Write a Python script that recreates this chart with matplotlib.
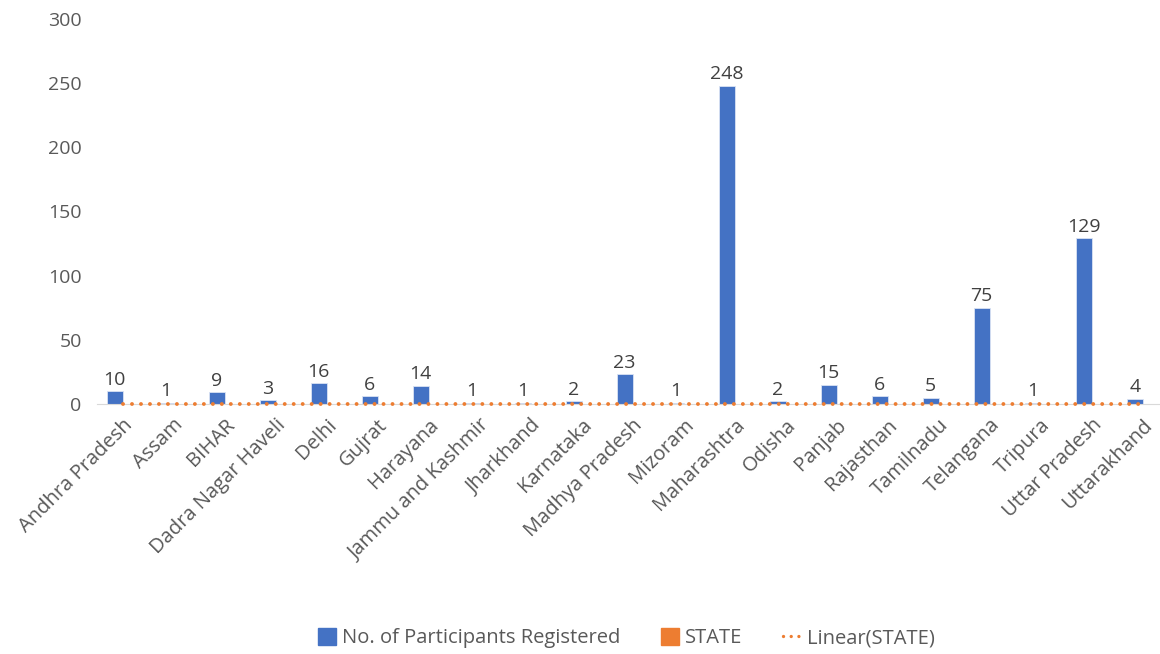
import matplotlib.pyplot as plt
import numpy as np
from matplotlib.patches import Patch
from matplotlib.lines import Line2D

plt.rcParams['font.family'] = ['Open Sans', 'DejaVu Sans']

# ------------------------------------------------------------
# DATA
# ------------------------------------------------------------
states = ["Andhra Pradesh", "Assam", "BIHAR", "Dadra Nagar Haveli", "Delhi",
          "Gujrat", "Harayana", "Jammu and Kashmir", "Jharkhand", "Karnataka",
          "Madhya Pradesh", "Mizoram", "Maharashtra", "Odisha", "Panjab",
          "Rajasthan", "Tamilnadu", "Telangana", "Tripura", "Uttar Pradesh",
          "Uttarakhand"]
participants = [10, 1, 9, 3, 16, 6, 14, 1, 1, 2, 23, 1, 248, 2, 15, 6, 5, 75, 1, 129, 4]
state_vals = [0] * len(states)

blue = "#4472C4"
orange = "#ED7D31"
grey = "#595959"
dots = (0, (0.01, 2.3))

fig = plt.figure(figsize=(11.6, 6.54), dpi=100)
ax = fig.add_axes([97 / 1160, 250 / 654, 1063 / 1160, 385 / 654])

x = np.arange(len(states))
bw = 0.31
ax.bar(x, participants, width=-bw, align="edge", color=blue,
       edgecolor="#DAE3F3", linewidth=0.6, zorder=2)
ax.bar(x, state_vals, width=bw, align="edge", color=orange, zorder=2)

# linear trendline of STATE
coef = np.polyfit(x, state_vals, 1)
ax.plot(x, np.polyval(coef, x), color=orange, linewidth=2.8,
        linestyle=dots, dash_capstyle="round", zorder=3, clip_on=False)

for xi, v in zip(x, participants):
    ax.text(xi - bw / 2, v + 2, str(v), ha="center", va="bottom",
            fontsize=14, color="#404040")

ax.set_xlim(-0.5, 20.34)
ax.set_ylim(0, 300)
ax.set_yticks(range(0, 301, 50))
ax.tick_params(axis="y", length=0, labelsize=14, labelcolor=grey, pad=11)
ax.set_xticks(x)
ax.set_xticklabels(states, rotation=45, ha="right", rotation_mode="anchor",
                   fontsize=14.5, color=grey)
ax.tick_params(axis="x", length=0, pad=8)

for s in ["top", "right", "left"]:
    ax.spines[s].set_visible(False)
ax.spines["bottom"].set_color("#D9D9D9")

handles = [Patch(color=blue), Patch(color=orange),
           Line2D([0], [0], color=orange, linewidth=2.4, linestyle=dots,
                  dash_capstyle="round")]
labels = ["No. of Participants Registered", "STATE", "Linear(STATE)"]
fig.legend(handles, labels, loc="center", bbox_to_anchor=(0.54, 16 / 654),
           ncol=3, frameon=False, fontsize=14.5, labelcolor=grey,
           handlelength=0.9, handleheight=0.9, handletextpad=0.3, columnspacing=2.0)

fig.savefig("out.png", dpi=100, facecolor="white")
